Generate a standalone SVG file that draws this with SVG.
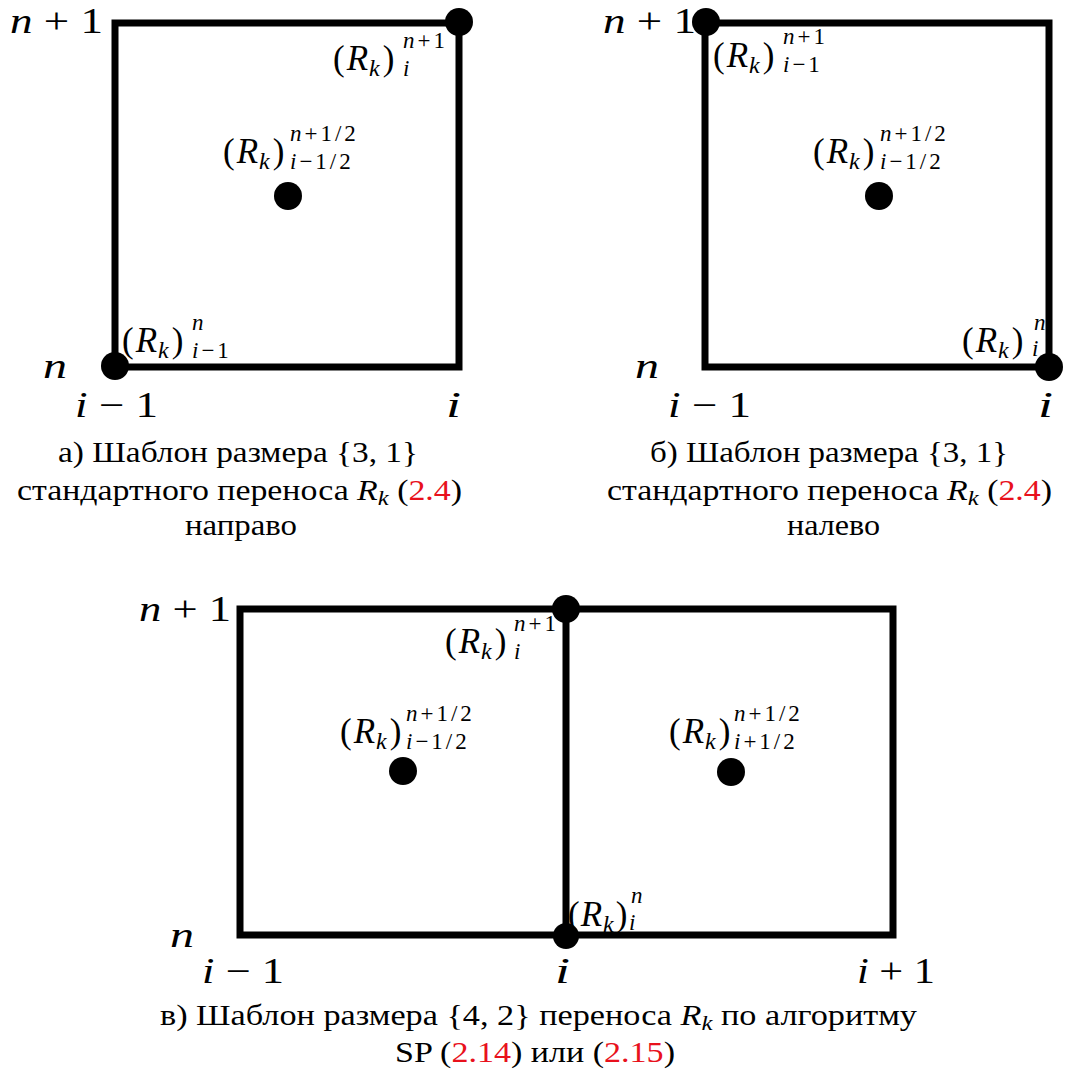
<svg xmlns="http://www.w3.org/2000/svg" width="1069" height="1077" viewBox="0 0 1069 1077">
<defs>
<path id="cellA" d="M0,0 H344 V344 H0 Z"/>
</defs>
<rect width="1069" height="1077" fill="#fff"/>
<g id="connectors" fill="none" stroke="#000" stroke-width="7">
<path d="M115,23 H459 V367 H115 Z"/>
<path d="M705,23 H1049 V367 H705 Z"/>
<path d="M240,609 H893 V935 H240 Z"/>
<path d="M566,609 V935"/>
</g>
<g id="panel-a">
<text font-family="Liberation Serif" font-size="36" font-style="italic" x="10" y="33" textLength="93" lengthAdjust="spacingAndGlyphs">n <tspan font-style="normal">+ 1</tspan></text>
<text font-family="Liberation Serif" font-size="36" font-style="italic" x="43" y="378" textLength="24" lengthAdjust="spacingAndGlyphs">n</text>
<text font-family="Liberation Serif" font-size="36" font-style="italic" x="75" y="417" textLength="83" lengthAdjust="spacingAndGlyphs">i <tspan font-style="normal">− 1</tspan></text>
<text font-family="Liberation Serif" font-size="36" font-style="italic" x="446" y="417" textLength="15" lengthAdjust="spacingAndGlyphs">i</text>
<circle cx="459" cy="22" r="14" fill="#000"/>
<circle cx="115" cy="366" r="14" fill="#000"/>
<circle cx="288" cy="196" r="14" fill="#000"/>
<text id="a-top" font-family="Liberation Serif" font-size="35" x="333" y="70">(<tspan font-style="italic" dx="2">R</tspan><tspan font-size="24" font-style="italic" dx="1" dy="6">k</tspan><tspan dx="3" dy="-6">)</tspan><tspan font-size="23" font-style="italic" letter-spacing="3" x="403" y="48">n<tspan font-style="normal">+1</tspan></tspan><tspan font-size="23" font-style="italic" x="403" y="76">i</tspan></text>
<text id="a-mid" font-family="Liberation Serif" font-size="35" x="223" y="163">(<tspan font-style="italic" dx="2">R</tspan><tspan font-size="24" font-style="italic" dx="1" dy="6">k</tspan><tspan dx="3" dy="-6">)</tspan><tspan font-size="23" font-style="italic" letter-spacing="3" x="290" y="141">n<tspan font-style="normal">+1/2</tspan></tspan><tspan font-size="23" font-style="italic" letter-spacing="3" x="290" y="169">i<tspan font-style="normal">−1/2</tspan></tspan></text>
<text id="a-bot" font-family="Liberation Serif" font-size="35" x="122" y="352">(<tspan font-style="italic" dx="2">R</tspan><tspan font-size="24" font-style="italic" dx="1" dy="6">k</tspan><tspan dx="3" dy="-6">)</tspan><tspan font-size="23" font-style="italic" x="192" y="330">n</tspan><tspan font-size="23" font-style="italic" letter-spacing="3" x="192" y="358">i<tspan font-style="normal">−1</tspan></tspan></text>
<g id="a-caption">
<text font-family="Liberation Serif" font-size="29" x="58" y="462" textLength="360" lengthAdjust="spacingAndGlyphs">а) Шаблон размера {3, 1}</text>
<text font-family="Liberation Serif" font-size="29" x="17" y="500" textLength="445" lengthAdjust="spacingAndGlyphs">стандартного переноса <tspan font-style="italic">R</tspan><tspan font-size="21" font-style="italic" dy="5">k</tspan><tspan dy="-5"> (</tspan><tspan fill="#e8111c">2.4</tspan>)</text>
<text font-family="Liberation Serif" font-size="29" x="185" y="535" textLength="112" lengthAdjust="spacingAndGlyphs">направо</text>
</g>
</g>
<g id="panel-b">
<text font-family="Liberation Serif" font-size="36" font-style="italic" x="603" y="33" textLength="93" lengthAdjust="spacingAndGlyphs">n <tspan font-style="normal">+ 1</tspan></text>
<text font-family="Liberation Serif" font-size="36" font-style="italic" x="635" y="378" textLength="24" lengthAdjust="spacingAndGlyphs">n</text>
<text font-family="Liberation Serif" font-size="36" font-style="italic" x="668" y="417" textLength="83" lengthAdjust="spacingAndGlyphs">i <tspan font-style="normal">− 1</tspan></text>
<text font-family="Liberation Serif" font-size="36" font-style="italic" x="1038" y="417" textLength="15" lengthAdjust="spacingAndGlyphs">i</text>
<circle cx="706" cy="22" r="14" fill="#000"/>
<circle cx="1049" cy="367" r="14" fill="#000"/>
<circle cx="879" cy="196" r="14" fill="#000"/>
<text id="b-top" font-family="Liberation Serif" font-size="35" x="713" y="67">(<tspan font-style="italic" dx="2">R</tspan><tspan font-size="24" font-style="italic" dx="1" dy="6">k</tspan><tspan dx="3" dy="-6">)</tspan><tspan font-size="23" font-style="italic" letter-spacing="3" x="783" y="44">n<tspan font-style="normal">+1</tspan></tspan><tspan font-size="23" font-style="italic" letter-spacing="3" x="783" y="72">i<tspan font-style="normal">−1</tspan></tspan></text>
<text id="b-mid" font-family="Liberation Serif" font-size="35" x="813" y="163">(<tspan font-style="italic" dx="2">R</tspan><tspan font-size="24" font-style="italic" dx="1" dy="6">k</tspan><tspan dx="3" dy="-6">)</tspan><tspan font-size="23" font-style="italic" letter-spacing="3" x="880" y="141">n<tspan font-style="normal">+1/2</tspan></tspan><tspan font-size="23" font-style="italic" letter-spacing="3" x="880" y="169">i<tspan font-style="normal">−1/2</tspan></tspan></text>
<text id="b-bot" font-family="Liberation Serif" font-size="35" x="962" y="352">(<tspan font-style="italic" dx="2">R</tspan><tspan font-size="24" font-style="italic" dx="1" dy="6">k</tspan><tspan dx="3" dy="-6">)</tspan><tspan font-size="23" font-style="italic" x="1034" y="330">n</tspan><tspan font-size="23" font-style="italic" x="1032" y="356">i</tspan></text>
<g id="b-caption">
<text font-family="Liberation Serif" font-size="29" x="650" y="462" textLength="358" lengthAdjust="spacingAndGlyphs">б) Шаблон размера {3, 1}</text>
<text font-family="Liberation Serif" font-size="29" x="607" y="500" textLength="445" lengthAdjust="spacingAndGlyphs">стандартного переноса <tspan font-style="italic">R</tspan><tspan font-size="21" font-style="italic" dy="5">k</tspan><tspan dy="-5"> (</tspan><tspan fill="#e8111c">2.4</tspan>)</text>
<text font-family="Liberation Serif" font-size="29" x="787" y="535" textLength="93" lengthAdjust="spacingAndGlyphs">налево</text>
</g>
</g>
<g id="panel-c">
<text font-family="Liberation Serif" font-size="36" font-style="italic" x="139" y="621" textLength="92" lengthAdjust="spacingAndGlyphs">n <tspan font-style="normal">+ 1</tspan></text>
<text font-family="Liberation Serif" font-size="36" font-style="italic" x="170" y="947" textLength="24" lengthAdjust="spacingAndGlyphs">n</text>
<text font-family="Liberation Serif" font-size="36" font-style="italic" x="202" y="983" textLength="82" lengthAdjust="spacingAndGlyphs">i <tspan font-style="normal">− 1</tspan></text>
<text font-family="Liberation Serif" font-size="36" font-style="italic" x="555" y="983" textLength="15" lengthAdjust="spacingAndGlyphs">i</text>
<text font-family="Liberation Serif" font-size="36" font-style="italic" x="857" y="983" textLength="78" lengthAdjust="spacingAndGlyphs">i <tspan font-style="normal">+ 1</tspan></text>
<circle cx="566" cy="609" r="14" fill="#000"/>
<circle cx="566" cy="936" r="13" fill="#000"/>
<circle cx="403" cy="771" r="14" fill="#000"/>
<circle cx="731" cy="772" r="14" fill="#000"/>
<text id="c-top" font-family="Liberation Serif" font-size="35" x="445" y="653">(<tspan font-style="italic" dx="2">R</tspan><tspan font-size="24" font-style="italic" dx="1" dy="6">k</tspan><tspan dx="3" dy="-6">)</tspan><tspan font-size="23" font-style="italic" letter-spacing="3" x="514" y="631">n<tspan font-style="normal">+1</tspan></tspan><tspan font-size="23" font-style="italic" x="514" y="659">i</tspan></text>
<text id="c-left" font-family="Liberation Serif" font-size="35" x="340" y="743">(<tspan font-style="italic" dx="2">R</tspan><tspan font-size="24" font-style="italic" dx="1" dy="6">k</tspan><tspan dx="3" dy="-6">)</tspan><tspan font-size="23" font-style="italic" letter-spacing="3" x="406" y="721">n<tspan font-style="normal">+1/2</tspan></tspan><tspan font-size="23" font-style="italic" letter-spacing="3" x="406" y="749">i<tspan font-style="normal">−1/2</tspan></tspan></text>
<text id="c-right" font-family="Liberation Serif" font-size="35" x="669" y="743">(<tspan font-style="italic" dx="2">R</tspan><tspan font-size="24" font-style="italic" dx="1" dy="6">k</tspan><tspan dx="3" dy="-6">)</tspan><tspan font-size="23" font-style="italic" letter-spacing="3" x="734" y="721">n<tspan font-style="normal">+1/2</tspan></tspan><tspan font-size="23" font-style="italic" letter-spacing="3" x="734" y="749">i<tspan font-style="normal">+1/2</tspan></tspan></text>
<text id="c-bot" font-family="Liberation Serif" font-size="35" x="568" y="926">(<tspan font-style="italic" dx="1">R</tspan><tspan font-size="24" font-style="italic" dx="1" dy="6">k</tspan><tspan dx="2" dy="-6">)</tspan><tspan font-size="23" font-style="italic" x="631" y="903">n</tspan><tspan font-size="23" font-style="italic" x="629" y="930">i</tspan></text>
<g id="c-caption">
<text font-family="Liberation Serif" font-size="29" x="160" y="1025" textLength="757" lengthAdjust="spacingAndGlyphs">в) Шаблон размера {4, 2} переноса <tspan font-style="italic">R</tspan><tspan font-size="21" font-style="italic" dy="5">k</tspan><tspan dy="-5"> по алгоритму</tspan></text>
<text font-family="Liberation Serif" font-size="29" x="395" y="1062" textLength="280" lengthAdjust="spacingAndGlyphs">SP (<tspan fill="#e8111c">2.14</tspan>) или (<tspan fill="#e8111c">2.15</tspan>)</text>
</g>
</g>
</svg>
